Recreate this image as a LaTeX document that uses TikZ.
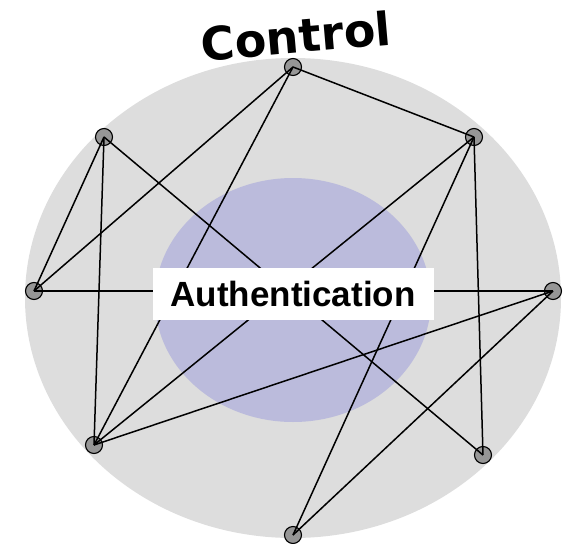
\documentclass[tikz,border=0pt]{standalone}
\usepackage{fontspec}
\setmainfont{Liberation Sans}
\newfontfamily\titlefont{DejaVu Sans}
\definecolor{outerfill}{RGB}{221,221,221}
\definecolor{innerfill}{RGB}{187,187,220}
\definecolor{dotfill}{RGB}{150,150,150}
\begin{document}
\begin{tikzpicture}[x=1pt,y=-1pt,
  dot/.style={circle,draw=black,line width=1.1pt,fill=dotfill,minimum size=17pt,inner sep=0pt},
  link/.style={line width=1.5pt,black},
  labelbox/.style={fill=white,minimum width=281pt,minimum height=52pt,inner sep=0pt,font=\bfseries\fontsize{35}{37}\selectfont}]
\useasboundingbox (0,0) rectangle (563,544);
\fill[outerfill] (293,298) ellipse [x radius=268, y radius=240];
\fill[innerfill] (293,300) ellipse [x radius=138, y radius=122];
\node[dot] (a) at (293,67) {};
\node[dot] (b) at (104,137) {};
\node[dot] (c) at (474,137) {};
\node[dot] (d) at (34,291) {};
\node[dot] (e) at (553,291) {};
\node[dot] (f) at (94,445) {};
\node[dot] (g) at (483,455) {};
\node[dot] (h) at (293,535) {};
\draw[link] (a.center) -- (c.center);
\draw[link] (a.center) -- (d.center);
\draw[link] (a.center) -- (f.center);
\draw[link] (b.center) -- (d.center);
\draw[link] (b.center) -- (f.center);
\draw[link] (b.center) -- (g.center);
\draw[link] (c.center) -- (f.center);
\draw[link] (c.center) -- (h.center);
\draw[link] (c.center) -- (g.center);
\draw[link] (d.center) -- (e.center);
\draw[link] (e.center) -- (f.center);
\draw[link] (e.center) -- (h.center);
\node[labelbox] (auth) at (293,294) {Authentication};
\node[font=\titlefont\bfseries\fontsize{46}{48}\selectfont,rotate=5,inner sep=0pt] (title) at (296,36) {Control};
\end{tikzpicture}
\end{document}
